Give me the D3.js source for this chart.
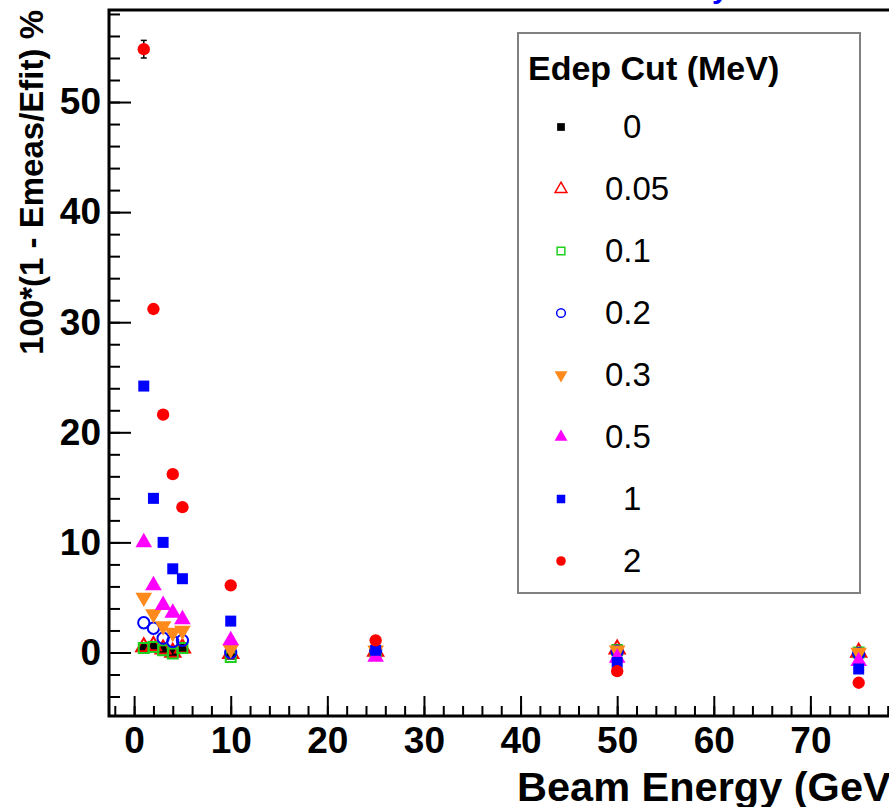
<!DOCTYPE html>
<html>
<head>
<meta charset="utf-8">
<script src="https://cdn.jsdelivr.net/npm/d3@7"></script>
<style>
  body { margin: 0; background: #fff; }
  text { font-family: "Liberation Sans", Arial, Helvetica, sans-serif; }
</style>
</head>
<body>
<div id="chart"></div>
<script>
// beam energies (GeV)
var energies = [1, 2, 3, 4, 5, 10, 25, 50, 75];

// 100*(1 - Emeas/Efit) for each Edep cut (MeV)
var cut0    = [0.5, 0.6, 0.3, 0.0, 0.5, -0.2, 0.1, 0.3, 0.0];
var cut005  = [0.5, 0.6, 0.3, 0.0, 0.4, -0.1, 0.1, 0.3, 0.0];
var cut01   = [0.4, 0.5, 0.2, -0.1, 0.4, -0.4, 0.0, 0.2, 0.0];
var cut02   = [2.7, 2.2, 1.3, 1.0, 1.1, 0.0, 0.2, 0.1, -0.1];
var cut03   = [5.0, 3.5, 2.4, 1.8, 2.0, 0.3, 0.2, 0.2, 0.0];
var cut05   = [10.0, 6.1, 4.3, 3.6, 3.0, 1.1, -0.4, -0.5, -0.8];
var cut1    = [24.2, 14.0, 10.0, 7.6, 6.7, 2.85, 0.2, -0.9, -1.5];
var cut2    = [54.8, 31.2, 21.6, 16.2, 13.2, 6.1, 1.1, -1.7, -2.75];
var errCut2 = [0.8, 0.4, 0.3, 0.3, 0.2, 0.1, 0.1, 0.1, 0.1];

var cutLabels = ["0", "0.05", "0.1", "0.2", "0.3", "0.5", "1", "2"];
var xTicks = [0, 10, 20, 30, 40, 50, 60, 70];
var yTicks = [0, 10, 20, 30, 40, 50];

var W = 889, H = 807;

var x = d3.scaleLinear().domain([-2.6, 80]).range([109, 907]);
var y = d3.scaleLinear().domain([-5.77, 58.36]).range([716, 10]);

var series = [
  { label: cutLabels[0], values: cut0,   shape: d3.symbolSquare,   fill: "#000",    stroke: "none",    size: 100 },
  { label: cutLabels[1], values: cut005, shape: d3.symbolTriangle, fill: "none",    stroke: "#ff0000", size: 100 },
  { label: cutLabels[2], values: cut01,  shape: d3.symbolSquare,   fill: "none",    stroke: "#1fd01f", size: 100 },
  { label: cutLabels[3], values: cut02,  shape: d3.symbolCircle,   fill: "none",    stroke: "#0000ff", size: 100 },
  { label: cutLabels[4], values: cut03,  shape: d3.symbolTriangle, fill: "#ff8a1c", stroke: "none",    size: 120, flip: true },
  { label: cutLabels[5], values: cut05,  shape: d3.symbolTriangle, fill: "#ff00ff", stroke: "none",    size: 120 },
  { label: cutLabels[6], values: cut1,   shape: d3.symbolSquare,   fill: "#0000ff", stroke: "none",    size: 121 },
  { label: cutLabels[7], values: cut2,   shape: d3.symbolCircle,   fill: "#ff0000", stroke: "none",    size: 120, err: errCut2 }
];

var svg = d3.select("#chart").append("svg")
    .attr("width", W)
    .attr("height", H);

// stub of the (cropped) blue title above the frame
svg.append("text")
    .attr("x", 712).attr("y", -2)
    .style("font-size", "30px").style("font-weight", "bold")
    .style("fill", "#0000ff")
    .text("y");

// minor + major ticks
svg.append("g")
    .attr("transform", "translate(0,716)")
    .call(d3.axisBottom(x).tickValues(d3.range(-2, 80, 2)).tickSize(-10).tickFormat(""))
    .call(function(g){ g.select(".domain").remove(); g.selectAll("line").attr("stroke-width", 2); });

var xa = svg.append("g")
    .attr("transform", "translate(0,716)")
    .call(d3.axisBottom(x).tickValues(xTicks).tickSize(-20).tickPadding(11));
xa.select(".domain").remove();
xa.selectAll("line").attr("stroke-width", 2);
xa.selectAll("text").style("font-size", "37px").style("font-weight", "bold").attr("fill", "#000");

svg.append("g")
    .attr("transform", "translate(109,0)")
    .call(d3.axisLeft(y).tickValues(d3.range(-4, 59, 2)).tickSize(-11).tickFormat(""))
    .call(function(g){ g.select(".domain").remove(); g.selectAll("line").attr("stroke-width", 2); });

var ya = svg.append("g")
    .attr("transform", "translate(109,0)")
    .call(d3.axisLeft(y).tickValues(yTicks).tickSize(-22).tickPadding(8));
ya.select(".domain").remove();
ya.selectAll("line").attr("stroke-width", 2);
ya.selectAll("text").style("font-size", "37px").style("font-weight", "bold").attr("fill", "#000");

// frame
svg.append("path")
    .attr("d", "M" + x(80) + "," + y(58.36) + "H" + x(-2.6) + "V" + y(-5.77) + "H" + x(80))
    .style("fill", "none").style("stroke", "#000").style("stroke-width", 3);

// error bars
series.forEach(function(s) {
  if (!s.err) return;
  var g = svg.append("g").style("stroke", "#000").style("stroke-width", 1.5);
  energies.forEach(function(e, i) {
    var cx = x(e), y0 = y(s.values[i] - s.err[i]), y1 = y(s.values[i] + s.err[i]);
    if (y0 - y1 < 12) return;
    g.append("line").attr("x1", cx).attr("x2", cx).attr("y1", y0).attr("y2", y1);
    g.append("line").attr("x1", cx - 3).attr("x2", cx + 3).attr("y1", y0).attr("y2", y0);
    g.append("line").attr("x1", cx - 3).attr("x2", cx + 3).attr("y1", y1).attr("y2", y1);
  });
});

// markers
series.forEach(function(s) {
  svg.append("g").selectAll("path")
    .data(s.values)
    .enter()
    .append("path")
    .attr("d", d3.symbol().type(s.shape).size(s.size))
    .attr("transform", function(d, i) {
      return "translate(" + x(energies[i]) + "," + y(d) + ")" + (s.flip ? " rotate(180)" : "");
    })
    .style("fill", s.fill)
    .style("stroke", s.stroke)
    .style("stroke-width", 2);
});

// axis titles
svg.append("text")
    .attr("x", 517).attr("y", 801)
    .style("font-size", "41.5px").style("font-weight", "bold")
    .text("Beam Energy (GeV)");

svg.append("text")
    .attr("transform", "translate(43,10) rotate(-90)")
    .attr("text-anchor", "end")
    .style("font-size", "33px").style("font-weight", "bold")
    .text("100*(1 - Emeas/Efit) %");

// legend
var lg = svg.append("g");
lg.append("rect")
    .attr("x", 518).attr("y", 33).attr("width", 342).attr("height", 560)
    .style("fill", "#fff").style("stroke", "#808080").style("stroke-width", 2);
lg.append("text")
    .attr("x", 528).attr("y", 80)
    .style("font-size", "34px").style("font-weight", "bold")
    .text("Edep Cut (MeV)");

var items = lg.selectAll(".item")
    .data(series)
    .enter()
    .append("g")
    .attr("class", "item")
    .attr("transform", function(d, i) { return "translate(0," + (127 + i * 62) + ")"; });

items.append("path")
    .attr("d", function(d) { return d3.symbol().type(d.shape).size(d.size * 0.6)(); })
    .attr("transform", function(d) { return "translate(561,0)" + (d.flip ? " rotate(180)" : ""); })
    .style("fill", function(d) { return d.fill; })
    .style("stroke", function(d) { return d.stroke; })
    .style("stroke-width", 1.5);

items.append("text")
    .attr("x", function(d) { return d.label.length === 1 ? 623 : 605; })
    .attr("y", 11)
    .style("font-size", "33px")
    .text(function(d) { return d.label; });
</script>
</body>
</html>
